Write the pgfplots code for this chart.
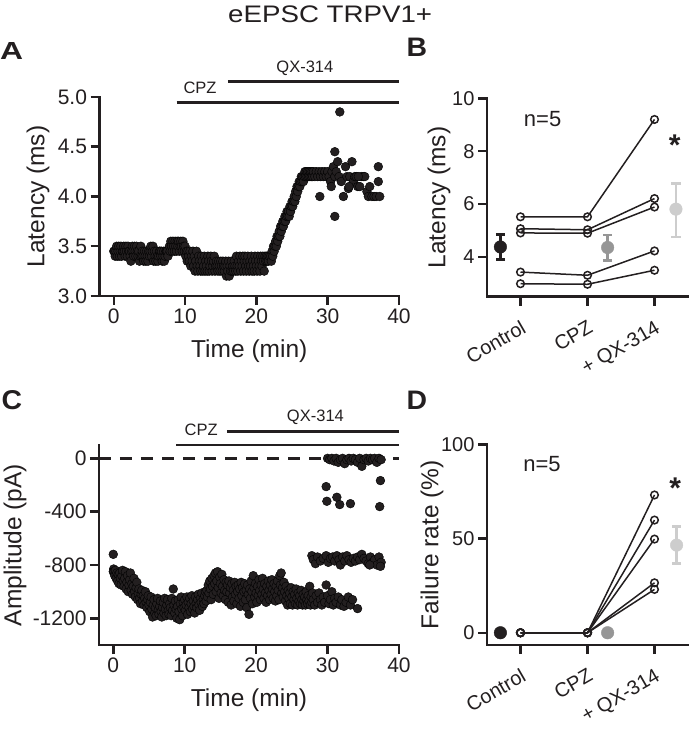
\documentclass[border=0pt]{standalone}
\usepackage{fontspec}
\setmainfont{Liberation Sans}
\usepackage{graphicx}
\usepackage{pgfplots}
\pgfplotsset{compat=1.18}
\definecolor{ink}{RGB}{35,31,32}
\definecolor{midgray}{RGB}{150,150,150}
\definecolor{lightgray2}{RGB}{205,205,205}
\pgfplotsset{
  panel/.style={
    scale only axis,
    axis lines=left,
    axis line style={-, line width=2.5pt, line cap=rect, ink},
    tick align=outside,
    major tick length=9pt,
    tick style={line width=2.5pt, ink},
    tick label style={font=\fontsize{21}{22}\selectfont, text=ink},
    label style={font=\fontsize{24.5}{26}\selectfont, text=ink},
    clip=false,
    /pgf/number format/assume math mode=true,
  },
  catpanel/.style={
    tick label style={font=\fontsize{20}{21}\selectfont, text=ink},
    xticklabel style={yshift=-12pt, rotate=30, anchor=north east, inner sep=1pt},
    xtick={1,2,3}, xticklabels={Control,CPZ,+ QX-314},
    xmin=0.5, xmax=3.5,
  },
  dots/.style={only marks, mark=*, mark size=4.4pt, mark options={fill=ink, draw=none}},
  pair/.style={line width=1.5pt, ink, mark=o, mark size=3.8pt, mark options={fill=white, draw=ink, line width=1.5pt}},
  meanpt/.style={only marks, mark=*, mark size=6.3pt, mark options={fill=#1, draw=#1}, color=#1,
    error bars/.cd, y dir=both, y explicit,
    error bar style={line width=2.5pt, #1},
    error mark options={rotate=90, line width=2.5pt, mark size=4.6pt, #1}},
}
\begin{document}
\begin{tikzpicture}
\useasboundingbox (0,0) rectangle (689pt,734pt);
\node[text=ink, anchor=south west, inner sep=0] at (228pt,711pt) {\resizebox{204pt}{16.7pt}{eEPSC TRPV1+}};
\node[text=ink, anchor=south west, inner sep=0] at (0pt,674pt) {\resizebox{23pt}{17pt}{\bfseries A}};
\node[text=ink, anchor=south west, inner sep=0] at (406.5pt,677.3pt) {\resizebox{20.5pt}{18.4pt}{\bfseries B}};
\node[text=ink, anchor=south west, inner sep=0] at (1.5pt,324pt) {\resizebox{20.5pt}{19pt}{\bfseries C}};
\node[text=ink, anchor=south west, inner sep=0] at (406.5pt,324pt) {\resizebox{20.5pt}{18.4pt}{\bfseries D}};

% ---------------- Panel A ----------------
\begin{axis}[panel, at={(99.5pt,438pt)}, anchor=south west,
  width=299.5pt, height=199pt,
  xmin=-2, xmax=40, ymin=3, ymax=5,
  xtick={0,10,20,30,40}, xticklabels={0,10,20,30,40},
  ytick={3,3.5,4,4.5,5}, yticklabels={3.0,3.5,4.0,4.5,5.0},
  xlabel={Time (min)}, ylabel={Latency (ms)},
  xlabel style={at={(axis description cs:0.5,-0.2764)}, anchor=center},
  ylabel style={at={(axis description cs:-0.2053,0.5)}, anchor=center},
]
\addplot[line width=2.5pt, ink] coordinates {(8.8,4.944) (40,4.944)};
\addplot[line width=2.5pt, ink] coordinates {(16.0,5.158) (40,5.158)};
\node[font=\fontsize{16.5}{16.5}\selectfont, text=ink] at (axis cs:12.1,5.097) {CPZ};
\node[font=\fontsize{16.5}{16.5}\selectfont, text=ink] at (axis cs:26.8,5.288) {QX-314};
\addplot[dots] coordinates {
(0.0,3.45)(0.1,3.45)(0.2,3.40)(0.3,3.45)(0.4,3.50)(0.5,3.40)(0.6,3.45)(0.7,3.50)(0.8,3.40)(0.9,3.45)
(1.0,3.50)(1.1,3.40)(1.2,3.45)(1.3,3.45)(1.4,3.50)(1.5,3.45)(1.6,3.40)(1.7,3.50)(1.8,3.45)(1.9,3.40)
(2.0,3.50)(2.1,3.45)(2.2,3.45)(2.3,3.40)(2.4,3.35)(2.5,3.45)(2.6,3.50)(2.7,3.45)(2.8,3.40)(2.9,3.50)
(3.0,3.45)(3.1,3.40)(3.2,3.50)(3.3,3.45)(3.4,3.40)(3.5,3.45)(3.6,3.35)(3.7,3.40)(3.8,3.50)(3.9,3.40)
(4.0,3.45)(4.1,3.40)(4.2,3.35)(4.3,3.45)(4.4,3.40)(4.5,3.35)(4.6,3.45)(4.7,3.40)(4.8,3.35)(4.9,3.45)
(5.0,3.40)(5.1,3.45)(5.2,3.50)(5.3,3.40)(5.4,3.45)(5.5,3.50)(5.6,3.35)(5.7,3.45)(5.8,3.40)(5.9,3.35)
(6.0,3.45)(6.1,3.40)(6.2,3.35)(6.3,3.40)(6.4,3.45)(6.5,3.45)(6.6,3.40)(6.7,3.45)(6.8,3.35)(6.9,3.40)
(7.0,3.45)(7.1,3.35)(7.2,3.40)(7.3,3.45)(7.4,3.45)(7.5,3.45)(7.6,3.40)
(7.8,3.50)(7.9,3.45)(8.0,3.55)(8.1,3.50)(8.2,3.45)(8.3,3.55)(8.4,3.50)(8.5,3.45)(8.6,3.55)(8.7,3.50)
(8.8,3.45)(8.9,3.55)(9.0,3.50)(9.1,3.55)(9.2,3.45)(9.3,3.50)(9.4,3.55)(9.5,3.50)(9.6,3.45)(9.7,3.55)
(9.8,3.50)(9.9,3.45)(10.0,3.50)(10.1,3.40)(10.2,3.45)
(10.3,3.35)(10.4,3.45)(10.5,3.40)(10.6,3.35)(10.7,3.45)(10.8,3.30)(10.9,3.40)(11.0,3.35)(11.1,3.45)(11.2,3.30)
(11.3,3.40)(11.4,3.25)(11.5,3.35)(11.6,3.45)(11.7,3.30)(11.8,3.25)(11.9,3.40)(12.0,3.35)
(12.1,3.30)(12.2,3.25)(12.3,3.40)(12.4,3.35)(12.5,3.25)(12.6,3.30)(12.7,3.40)(12.8,3.25)(12.9,3.35)(13.0,3.30)
(13.1,3.25)(13.2,3.40)(13.3,3.35)(13.4,3.25)(13.5,3.30)(13.6,3.40)(13.7,3.35)(13.8,3.25)(13.9,3.30)(14.0,3.35)
(14.1,3.40)(14.2,3.25)(14.3,3.30)(14.4,3.35)(14.5,3.30)(14.6,3.25)(14.7,3.35)(14.8,3.30)(14.9,3.25)(15.0,3.35)
(15.1,3.30)(15.2,3.25)(15.3,3.35)(15.4,3.30)(15.5,3.25)(15.6,3.30)(15.7,3.35)(15.8,3.20)(15.9,3.30)(16.0,3.25)
(16.1,3.35)(16.2,3.20)(16.3,3.30)(16.4,3.25)(16.5,3.35)(16.6,3.25)(16.7,3.30)(16.8,3.25)(16.9,3.35)(17.0,3.30)
(17.1,3.25)(17.2,3.40)(17.3,3.30)(17.4,3.25)(17.5,3.35)(17.6,3.30)(17.7,3.40)(17.8,3.25)(17.9,3.35)(18.0,3.30)
(18.1,3.40)(18.2,3.25)(18.3,3.35)(18.4,3.40)(18.5,3.30)(18.6,3.25)(18.7,3.35)(18.8,3.40)(18.9,3.30)(19.0,3.25)
(19.1,3.35)(19.2,3.30)(19.3,3.40)(19.4,3.25)(19.5,3.35)(19.6,3.30)(19.7,3.25)(19.8,3.40)(19.9,3.35)(20.0,3.30)
(20.1,3.25)(20.2,3.40)(20.3,3.35)(20.4,3.30)(20.5,3.25)(20.6,3.40)(20.7,3.35)(20.8,3.30)(20.9,3.40)(21.0,3.35)
(21.1,3.25)(21.2,3.40)(21.3,3.35)(21.4,3.40)(21.5,3.35)(21.6,3.40)(21.7,3.35)(21.8,3.40)
(22.0,3.40)(22.1,3.35)(22.2,3.45)(22.3,3.40)(22.4,3.50)(22.5,3.45)(22.6,3.50)(22.7,3.55)(22.8,3.50)(22.9,3.60)
(23.0,3.55)(23.1,3.60)(23.2,3.65)(23.3,3.60)(23.4,3.70)(23.5,3.65)(23.6,3.70)(23.7,3.75)(23.8,3.70)(23.9,3.75)
(24.0,3.80)(24.1,3.75)(24.2,3.80)(24.3,3.85)(24.4,3.80)(24.5,3.85)(24.6,3.80)(24.7,3.90)(24.8,3.85)(24.9,3.90)
(25.0,3.95)(25.1,3.90)(25.2,3.95)(25.3,4.00)(25.4,3.95)(25.5,4.05)(25.6,4.00)(25.7,4.10)(25.8,4.05)(25.9,4.10)
(26.0,4.15)(26.1,4.10)(26.2,4.15)(26.3,4.20)(26.4,4.15)(26.5,4.20)(26.6,4.15)(26.7,4.20)(26.8,4.25)(26.9,4.20)
(27.0,4.25)(27.1,4.20)(27.2,4.25)(27.3,4.20)(27.4,4.25)(27.5,4.20)(27.6,4.25)(27.7,4.20)(27.8,4.25)(27.9,4.20)
(28.0,4.25)(28.2,4.20)(28.4,4.25)(28.6,4.20)(28.8,4.25)(29.0,4.20)(29.2,4.25)(29.4,4.20)(29.6,4.25)(29.8,4.20)
(30.0,4.25)(30.2,4.20)(30.4,4.15)(30.6,4.25)(30.8,4.30)(31.0,4.20)
(28.9,4.00)(31.0,3.80)(31.7,4.85)(31.0,4.45)(31.4,4.35)(30.5,4.10)
(31.2,4.25)(31.6,4.20)(31.9,4.15)(32.2,4.00)(32.5,4.30)(32.7,4.20)(32.9,4.08)(33.1,4.20)(33.4,4.35)(33.6,4.15)
(33.8,4.20)(34.0,4.20)(34.2,4.10)(34.5,4.10)(34.7,4.20)(35.0,4.20)(35.2,4.20)(35.5,4.05)(35.7,4.00)(35.9,4.10)
(36.2,4.00)(36.5,4.00)(36.8,4.00)(37.1,4.30)(37.1,4.15)(37.3,4.00)(33.0,4.10)(34.3,4.20)
};
\end{axis}

% ---------------- Panel B ----------------
\begin{axis}[panel, catpanel, at={(487pt,437.3pt)}, anchor=south west,
  width=201pt, height=198.4pt,
  ymin=2.5, ymax=10,
  ytick={4,6,8,10}, yticklabels={4,6,8,10},
  ylabel={Latency (ms)},
  ylabel style={at={(axis description cs:-0.2388,0.5)}, anchor=center},
]
\addplot[pair] coordinates {(1,5.52) (2,5.52) (3,9.2)};
\addplot[pair] coordinates {(1,5.07) (2,5.03) (3,6.21)};
\addplot[pair] coordinates {(1,4.91) (2,4.90) (3,5.89)};
\addplot[pair] coordinates {(1,3.43) (2,3.31) (3,4.23)};
\addplot[pair] coordinates {(1,2.99) (2,2.97) (3,3.50)};
\addplot[meanpt=ink] coordinates {(0.7,4.38) += (0,0.48) -= (0,0.48)};
\addplot[meanpt=midgray] coordinates {(2.3,4.36) += (0,0.48) -= (0,0.50)};
\addplot[meanpt=lightgray2] coordinates {(3.32,5.81) += (0,0.97) -= (0,1.05)};
\node[font=\fontsize{22}{22}\selectfont, text=ink] at (axis cs:1.33,9.2) {n=5};
\node[font=\bfseries\fontsize{30}{30}\selectfont, text=ink] at (axis cs:3.30,8.23) {*};
\end{axis}

% ---------------- Panel C ----------------
\begin{axis}[panel, at={(99pt,89pt)}, anchor=south west,
  width=300pt, height=200pt,
  xmin=-2, xmax=40, ymin=-1400, ymax=100,
  xtick={0,10,20,30,40}, xticklabels={0,10,20,30,40},
  ytick={-1200,-800,-400,0}, yticklabels={-1200,-800,-400,0},
  xlabel={Time (min)}, ylabel={Amplitude (pA)},
  xlabel style={at={(axis description cs:0.5,-0.275)}, anchor=center},
  ylabel style={at={(axis description cs:-0.28,0.5)}, anchor=center},
]
\addplot[line width=2.5pt, ink, dash pattern=on 12pt off 9pt] coordinates {(-2,0) (40,0)};
\addplot[line width=2.5pt, ink] coordinates {(8.8,100) (40,100)};
\addplot[line width=2.5pt, ink] coordinates {(15.9,200) (40,200)};
\node[font=\fontsize{16.5}{16.5}\selectfont, text=ink] at (axis cs:12.3,213) {CPZ};
\node[font=\fontsize{16.5}{16.5}\selectfont, text=ink] at (axis cs:28.3,307) {QX-314};
\addplot[dots] coordinates {
(0.0,-720)(0.05,-830)(0.0,-850)(0.1,-850)(0.2,-880)(0.3,-840)(0.4,-900)(0.5,-860)(0.6,-920)(0.7,-870)(0.8,-940)(0.9,-860)
(1.0,-900)(1.1,-950)(1.2,-880)(1.3,-840)(1.4,-920)(1.5,-960)(1.6,-900)(1.7,-850)(1.8,-980)(1.9,-930)
(2.0,-880)(2.1,-1000)(2.2,-950)(2.3,-910)(2.4,-860)(2.5,-990)(2.6,-940)(2.7,-1020)(2.8,-960)(2.9,-900)
(3.0,-1000)(3.1,-1040)(3.2,-970)(3.3,-930)(3.4,-1060)(3.5,-1010)(3.6,-980)(3.7,-1050)(3.8,-1090)(3.9,-1020)
(4.0,-990)(4.1,-1070)(4.2,-1030)(4.3,-1100)(4.4,-1050)(4.5,-1000)(4.6,-1080)(4.7,-1120)(4.8,-1060)(4.9,-1030)
(5.0,-1100)(5.1,-1150)(5.2,-1080)(5.3,-1040)(5.4,-1130)(5.5,-1190)(5.6,-1100)(5.7,-1060)(5.8,-1160)(5.9,-1120)
(6.0,-1180)(6.1,-1090)(6.2,-1050)(6.3,-1140)(6.4,-1170)(6.5,-1110)(6.6,-1070)(6.7,-1150)(6.8,-1190)(6.9,-1120)
(7.0,-1080)(7.1,-1160)(7.2,-1050)(7.3,-1130)(7.4,-1180)(7.5,-1100)(7.6,-1060)(7.7,-1140)(7.8,-1170)(7.9,-1090)
(8.0,-1120)(8.1,-1180)(8.2,-1050)(8.3,-1140)(8.4,-980)(8.5,-1100)(8.6,-1160)(8.7,-1070)(8.8,-1130)(8.9,-1200)
(9.0,-1110)(9.1,-1060)(9.2,-1150)(9.3,-1210)(9.4,-1090)(9.5,-1040)(9.6,-1130)(9.7,-1180)(9.8,-1080)(9.9,-1120)
(10.0,-1060)(10.1,-1140)(10.2,-1100)(10.3,-1040)(10.4,-1170)(10.5,-1080)(10.6,-1120)(10.7,-1050)(10.8,-1150)(10.9,-1090)
(11.0,-1030)(11.1,-1130)(11.2,-1070)(11.3,-1110)(11.4,-1160)(11.5,-1040)(11.6,-1090)(11.7,-1120)(11.8,-1060)(11.9,-1020)
(12.0,-1100)(12.1,-1140)(12.2,-1050)(12.3,-1080)(12.4,-1010)(12.5,-1110)(12.6,-1060)(12.7,-1090)(12.8,-1030)(12.9,-1000)
(13.0,-1070)(13.1,-990)(13.2,-1040)(13.3,-950)(13.4,-1010)(13.5,-920)(13.6,-980)(13.7,-1060)(13.8,-900)(13.9,-960)
(14.0,-1020)(14.1,-880)(14.2,-940)(14.3,-860)(14.4,-1000)(14.5,-920)(14.6,-850)(14.7,-970)(14.8,-1050)(14.9,-890)
(15.0,-940)(15.1,-1010)(15.2,-870)(15.3,-960)(15.4,-1030)(15.5,-910)(15.6,-990)(15.7,-1060)(15.8,-930)(15.9,-1000)
(16.0,-950)(16.1,-1080)(16.2,-920)(16.3,-1010)(16.4,-970)(16.5,-1100)(16.6,-940)(16.7,-1040)(16.8,-990)(16.9,-1070)
(17.0,-930)(17.1,-1020)(17.2,-960)(17.3,-1090)(17.4,-1000)(17.5,-950)(17.6,-1050)(17.7,-980)(17.8,-1110)(17.9,-930)
(18.0,-1030)(18.1,-970)(18.2,-1080)(18.3,-1000)(18.4,-940)(18.5,-1060)(18.6,-990)(18.7,-1120)(18.8,-950)(18.9,-1020)
(19.0,-1170)(19.1,-980)(19.2,-1050)(19.3,-920)(19.4,-1000)(19.5,-1090)(19.6,-880)(19.7,-970)(19.8,-1040)(19.9,-940)
(20.0,-1010)(20.1,-1080)(20.2,-960)(20.3,-1030)(20.4,-910)(20.5,-990)(20.6,-1060)(20.7,-950)(20.8,-1020)(20.9,-900)
(21.0,-980)(21.1,-1050)(21.2,-940)(21.3,-1010)(21.4,-1080)(21.5,-960)(21.6,-1030)(21.7,-920)(21.8,-990)(21.9,-1060)
(22.0,-950)(22.1,-1020)(22.2,-910)(22.3,-980)(22.4,-1050)(22.5,-940)(22.6,-1000)(22.7,-1070)(22.8,-960)(22.9,-1030)
(23.0,-920)(23.1,-990)(23.2,-1060)(23.3,-880)(23.4,-950)(23.5,-860)(23.6,-1010)(23.7,-970)(23.8,-1040)(23.9,-930)
(24.0,-1000)(24.1,-1070)(24.2,-960)(24.3,-1030)(24.4,-1100)(24.5,-990)(24.6,-1050)(24.7,-1010)(24.8,-1090)(24.9,-970)
(25.0,-1040)(25.1,-1100)(25.2,-1000)(25.3,-1060)(25.4,-1020)(25.5,-1090)(25.6,-980)(25.7,-1050)(25.8,-1100)(25.9,-1010)
(26.0,-1070)(26.1,-1030)(26.2,-1090)(26.3,-990)(26.4,-1060)(26.5,-1100)(26.6,-1020)(26.7,-1070)(26.8,-1040)(26.9,-1100)
(27.0,-1000)(27.1,-1060)(27.2,-1090)(27.3,-1030)(27.4,-1070)(27.5,-960)(27.6,-1100)(27.7,-1040)(27.8,-1080)(27.9,-1010)
(28.0,-1060)(28.2,-1100)(28.4,-1030)(28.6,-1080)(28.8,-1010)(29.0,-1060)(29.2,-1100)(29.4,-1040)(29.6,-1080)(29.8,-950)
(30.0,-1030)(30.2,-1090)(30.4,-1060)(30.6,-1000)(30.8,-1100)(31.0,-1050)
(31.2,-1080)(31.5,-1040)(31.8,-1100)(32.0,-1060)(32.3,-1110)(32.6,-1080)(32.9,-1040)(33.2,-1100)(33.5,-1060)(34.2,-1127)
(27.8,-730)(28.0,-760)(28.3,-790)(28.6,-740)(29.0,-770)(29.4,-750)(29.8,-730)(30.1,-780)(30.4,-750)(30.7,-740)
(31.0,-770)(31.3,-730)(31.6,-760)(31.8,-800)(32.1,-740)(32.4,-770)(32.7,-730)(33.0,-760)(33.3,-780)(33.6,-750)
(33.9,-770)(34.2,-740)(34.5,-760)(34.8,-720)(35.1,-750)(35.4,-770)(35.7,-790)(36.0,-740)(36.3,-780)(36.6,-760)
(36.9,-800)(37.2,-740)(37.5,-780)(37.4,-810)(35.9,-800)
(30.0,0)(30.3,-10)(30.6,0)(30.9,-20)(31.2,0)(31.5,-30)(31.8,-10)(32.1,0)(32.4,-40)(32.7,-10)
(33.0,0)(33.3,-20)(33.6,0)(33.9,-10)(34.2,-30)(34.5,0)(34.8,-60)(35.1,-10)(35.4,0)(35.7,-20)
(36.0,0)(36.3,-10)(36.6,0)(36.9,-30)(37.2,0)(37.5,-10)
(29.8,-212)(29.9,-322)(31.3,-292)(31.7,-347)(33.2,-340)(37.3,-362)(37.4,-167)
};
\end{axis}

% ---------------- Panel D ----------------
\begin{axis}[panel, catpanel, at={(487pt,89pt)}, anchor=south west,
  width=201pt, height=200.7pt,
  ymin=-6.5, ymax=100,
  ytick={0,50,100}, yticklabels={0,50,100},
  ylabel={Failure rate (\%)},
  ylabel style={at={(axis description cs:-0.2736,0.5)}, anchor=center},
]
\addplot[pair] coordinates {(1,0) (2,0) (3,73.1)};
\addplot[pair] coordinates {(1,0) (2,0) (3,59.8)};
\addplot[pair] coordinates {(1,0) (2,0) (3,49.7)};
\addplot[pair] coordinates {(1,0) (2,0) (3,26.5)};
\addplot[pair] coordinates {(1,0) (2,0) (3,23.0)};
\addplot[only marks, mark=*, mark size=6.3pt, mark options={fill=ink, draw=ink}] coordinates {(0.7,0)};
\addplot[only marks, mark=*, mark size=6.3pt, mark options={fill=midgray, draw=midgray}] coordinates {(2.3,0)};
\addplot[meanpt=lightgray2] coordinates {(3.33,46.5) += (0,9.8) -= (0,9.7)};
\node[font=\fontsize{22}{22}\selectfont, text=ink] at (axis cs:1.32,89.5) {n=5};
\node[font=\bfseries\fontsize{30}{30}\selectfont, text=ink] at (axis cs:3.31,76.7) {*};
\end{axis}
\end{tikzpicture}
\end{document}
